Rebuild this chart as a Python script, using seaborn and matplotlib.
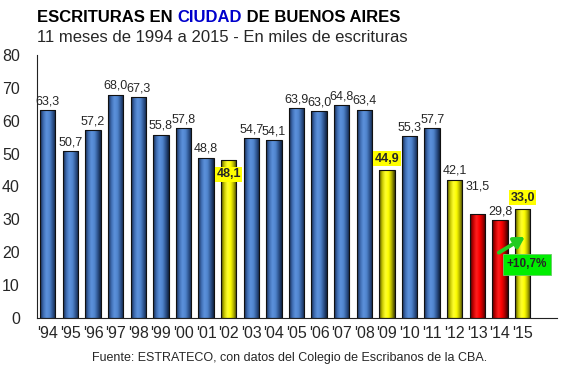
import numpy as np
import pandas as pd
import matplotlib
matplotlib.use("Agg")
import matplotlib.pyplot as plt
import seaborn as sns
from matplotlib.colors import LinearSegmentedColormap, to_hex

# ---------------- data ----------------
years = ["'94", "'95", "'96", "'97", "'98", "'99", "'00", "'01", "'02", "'03", "'04",
         "'05", "'06", "'07", "'08", "'09", "'10", "'11", "'12", "'13", "'14", "'15"]
values = [63.3, 50.7, 57.2, 68.0, 67.3, 55.8, 57.8, 48.8, 48.1, 54.7, 54.1,
          63.9, 63.0, 64.8, 63.4, 44.9, 55.3, 57.7, 42.1, 31.5, 29.8, 33.0]
groups = (["blue"] * 8 + ["yellow"] + ["blue"] * 6 + ["yellow"] + ["blue"] * 2
          + ["yellow"] + ["red"] * 2 + ["yellow"])
highlighted = ["'02", "'09", "'15"]
change_text = "+10,7%"
yticks = [0, 10, 20, 30, 40, 50, 60, 70, 80]

title_parts = ["ESCRITURAS EN ", "CIUDAD", " DE BUENOS AIRES"]
subtitle = "11 meses de 1994 a 2015 - En miles de escrituras"
footer = "Fuente: ESTRATECO, con datos del Colegio de Escribanos de la CBA."

df = pd.DataFrame({"year": years, "value": values, "group": groups})

# ---------------- style ----------------
sns.set_style("white")
plt.rcParams["font.family"] = ["Liberation Sans", "DejaVu Sans"]

palette = {"blue": "#4A7EC8", "yellow": "#FFFF00", "red": "#FF0000"}
gradients = {
    "blue": ["#14284A", "#3E6BB0", "#5C92DC", "#5186CE", "#2E5490", "#10223F"],
    "yellow": ["#4A4A00", "#C8C800", "#FFFF30", "#FFFF00", "#B0B000", "#3A3A00"],
    "red": ["#4A0000", "#C80000", "#FF2020", "#FF0000", "#B00000", "#3A0000"],
}

W, H = 563, 374
fig = plt.figure(figsize=(W / 100, H / 100), dpi=100)
ax = fig.add_axes([36.5 / W, 1 - 317.6 / H, (556.5 - 36.5) / W, (317.6 - 55.2) / H])

sns.barplot(data=df, x="year", y="value", hue="group", order=years,
            palette=palette, dodge=False, width=0.68, edgecolor="#111111",
            linewidth=0.8, legend=False, ax=ax, saturation=1)

# cylindrical shading on every bar
col2grp = {to_hex(c).lower(): g for g, c in palette.items()}
grad = np.linspace(0, 1, 64).reshape(1, -1)
for p in list(ax.patches):
    h = p.get_height()
    if not np.isfinite(h) or h <= 0:
        continue
    g = col2grp.get(to_hex(p.get_facecolor()).lower())
    if g is None:
        continue
    cmap = LinearSegmentedColormap.from_list(g, gradients[g])
    x0 = p.get_x()
    w = p.get_width()
    im = ax.imshow(grad, extent=[x0, x0 + w, 0, h], aspect="auto", cmap=cmap,
                   zorder=p.get_zorder() + 0.05, interpolation="bicubic")
    im.set_clip_path(p)
    p.set_facecolor("none")
    p.set_zorder(p.get_zorder() + 0.1)

ax.set_xlim(-0.5, len(years) + 0.5)
ax.set_ylim(0, 80)
ax.set_yticks(yticks)
ax.set_yticklabels([str(t) for t in yticks], fontsize=11.5)
ax.set_xticks(range(len(years)))
ax.set_xticklabels(years, fontsize=11.5)
ax.set_xticks(np.arange(-0.5, len(years) + 1, 1), minor=True)
ax.tick_params(axis="x", which="major", length=0, pad=6)
ax.tick_params(axis="x", which="minor", length=4, width=0.8, color="#333333", direction="out")
ax.tick_params(axis="y", which="major", length=4, width=0.8, color="#333333", direction="out", pad=8)
ax.set_xlabel("")
ax.set_ylabel("")
for s in ["top", "right"]:
    ax.spines[s].set_visible(False)
for s in ["left", "bottom"]:
    ax.spines[s].set_color("#222222")
    ax.spines[s].set_linewidth(0.8)

# ---------------- value labels ----------------
extra_offset = {"'13": 14}
for i, (yr, v) in enumerate(zip(years, values)):
    txt = f"{v:.1f}".replace(".", ",")
    if yr in highlighted:
        if yr == "'02":
            ax.annotate(txt, (i, v), xytext=(0, -6), textcoords="offset points",
                        ha="center", va="top", fontsize=9, fontweight="bold",
                        bbox=dict(boxstyle="square,pad=0.12", fc="#FFFF00", ec="none"),
                        zorder=5)
        else:
            ax.annotate(txt, (i, v), xytext=(0, 4), textcoords="offset points",
                        ha="center", va="bottom", fontsize=9, fontweight="bold",
                        bbox=dict(boxstyle="square,pad=0.12", fc="#FFFF00", ec="none"),
                        zorder=5)
    else:
        ax.annotate(txt, (i, v), xytext=(0, 2 + extra_offset.get(yr, 0)),
                    textcoords="offset points", ha="center", va="bottom",
                    fontsize=9, zorder=5)

# ---------------- change annotation ----------------
i15 = years.index("'15")
ax.annotate("", xy=(i15 + 0.1, 24.6), xytext=(i15 - 1.05, 19.8),
            arrowprops=dict(arrowstyle="-|>,head_length=0.6,head_width=0.35",
                            color="#22CC22", lw=2.8, shrinkA=0, shrinkB=0),
            zorder=6)
ax.text(i15 + 0.2, 16.2, change_text, ha="center", va="center", fontsize=8.5,
        fontweight="bold", zorder=7,
        bbox=dict(boxstyle="square,pad=0.35", fc="#00EE00", ec="#66CC66", lw=0.6))

# ---------------- titles ----------------
renderer = fig.canvas.get_renderer()
x = 37 / W
colors = ["black", "#0000CC", "black"]
for part, c in zip(title_parts, colors):
    t = fig.text(x, 1 - 17 / H, part, fontsize=12, fontweight="bold", color=c,
                 ha="left", va="center")
    bb = t.get_window_extent(renderer=renderer)
    x += bb.width / W
fig.text(37 / W, 1 - 38 / H, subtitle, fontsize=12, ha="left", va="center")
fig.text(290 / W, 1 - 358 / H, footer, fontsize=9, ha="center", va="center")

fig.savefig("out.png", dpi=100)
